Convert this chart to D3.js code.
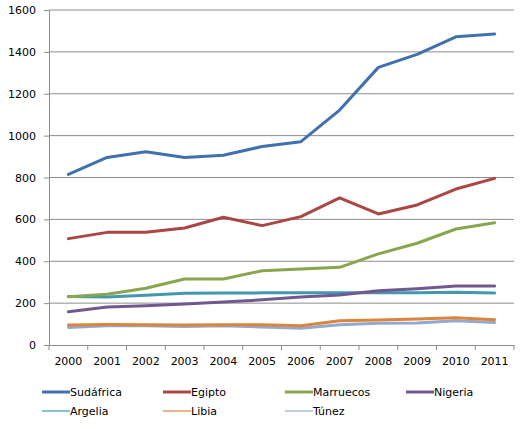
<!DOCTYPE html>
<html>
<head>
<meta charset="utf-8">
<script src="https://cdn.jsdelivr.net/npm/d3@7"></script>
<style>
  body { margin: 0; background: #fff; }
  text { font-family: "DejaVu Sans", sans-serif; font-size: 11px; fill: #000; }
</style>
</head>
<body>
<script>
// chart values
let years = ['2000','2001','2002','2003','2004','2005','2006','2007','2008','2009','2010','2011'];
let yTicks = [0, 200, 400, 600, 800, 1000, 1200, 1400, 1600];

let sudafrica = [815, 896, 923, 896, 906, 948, 971, 1122, 1326, 1388, 1472, 1485];
let egipto    = [508, 538, 538, 559, 610, 570, 613, 703, 626, 669, 745, 796];
let marruecos = [231, 242, 271, 315, 315, 355, 363, 371, 435, 486, 554, 584];
let nigeria   = [159, 181, 188, 196, 205, 216, 229, 239, 259, 269, 282, 282];
let argelia   = [232, 229, 238, 247, 248, 249, 249, 250, 250, 250, 252, 248];
let libia     = [96, 98, 97, 96, 97, 97, 92, 116, 119, 124, 130, 121];
let tunez     = [84, 92, 92, 88, 92, 86, 80, 97, 104, 105, 116, 108];

let seriesNames = ['Sudáfrica','Egipto','Marruecos','Nigeria','Argelia','Libia','Túnez'];
let seriesValues = [sudafrica, egipto, marruecos, nigeria, argelia, libia, tunez];
let colors = ['#4070ad','#aa4643','#89a54e','#71588f','#4198af','#db843d','#93a9cf'];

let w = 525;
let h = 429;
let plotL = 49, plotR = 514, plotT = 10, plotB = 345;
let gridColor = '#8c8c8c';

let svg = d3.select('body').append('svg').attr('width', w).attr('height', h);

let xScale = d3.scaleBand().domain(years).range([plotL, plotR]);
let yScale = d3.scaleLinear().domain([0, 1600]).range([plotB, plotT]);

// horizontal gridlines
svg.append('g')
  .selectAll('line')
  .data(yTicks.filter((d) => d > 0))
  .enter()
  .append('line')
  .attr('x1', plotL)
  .attr('x2', plotR)
  .attr('y1', (d) => yScale(d))
  .attr('y2', (d) => yScale(d))
  .style('stroke', gridColor)
  .style('stroke-width', 1);

// y axis
let yAxis = d3.axisLeft(yScale)
  .tickValues(yTicks)
  .tickFormat(d3.format('d'))
  .tickSize(5)
  .tickPadding(8)
  .tickSizeOuter(0);
let yAxisGroup = svg.append('g')
  .attr('transform', `translate(${plotL}, 0)`)
  .call(yAxis);

// x axis, ticks between the categories
let xAxis = d3.axisBottom(xScale).tickSize(0).tickPadding(12);
let xAxisGroup = svg.append('g')
  .attr('transform', `translate(0, ${plotB})`)
  .call(xAxis);

xAxisGroup.selectAll('.boundary')
  .data(years.concat(['end']))
  .enter()
  .append('line')
  .classed('boundary', true)
  .attr('x1', (d, i) => plotL + i * xScale.step())
  .attr('x2', (d, i) => plotL + i * xScale.step())
  .attr('y1', 0)
  .attr('y2', 5);

svg.selectAll('.domain, .tick line, .boundary')
  .style('stroke', gridColor)
  .style('stroke-width', 1);
svg.selectAll('.tick text')
  .style('font-family', '"DejaVu Sans", sans-serif')
  .style('font-size', '11px')
  .style('fill', '#000');

// lines, drawn last series first so Sudáfrica ends on top
let line = d3.line()
  .x((d, i) => xScale(years[i]) + xScale.bandwidth() / 2)
  .y((d) => yScale(d));

let order = d3.range(seriesValues.length).reverse();
svg.append('g')
  .selectAll('path')
  .data(order)
  .enter()
  .append('path')
  .attr('d', (k) => line(seriesValues[k]))
  .style('fill', 'none')
  .style('stroke', (k) => colors[k])
  .style('stroke-width', 3)
  .style('stroke-linejoin', 'round')
  .style('stroke-linecap', 'round');

// legend
let legX = [42, 163, 285, 406];
let legY = [392, 411];
let legend = svg.append('g')
  .selectAll('g')
  .data(seriesNames)
  .enter()
  .append('g')
  .attr('transform', (d, i) => `translate(${legX[i % 4]}, ${legY[Math.floor(i / 4)]})`);

legend.append('line')
  .attr('x1', 0)
  .attr('x2', 28)
  .attr('y1', 0)
  .attr('y2', 0)
  .style('stroke', (d, i) => colors[i])
  .style('stroke-width', (d, i) => i < 4 ? 3 : 1.2);

legend.append('text')
  .attr('x', 28)
  .attr('y', 0)
  .attr('dy', '0.35em')
  .text((d) => d);
</script>
</body>
</html>
